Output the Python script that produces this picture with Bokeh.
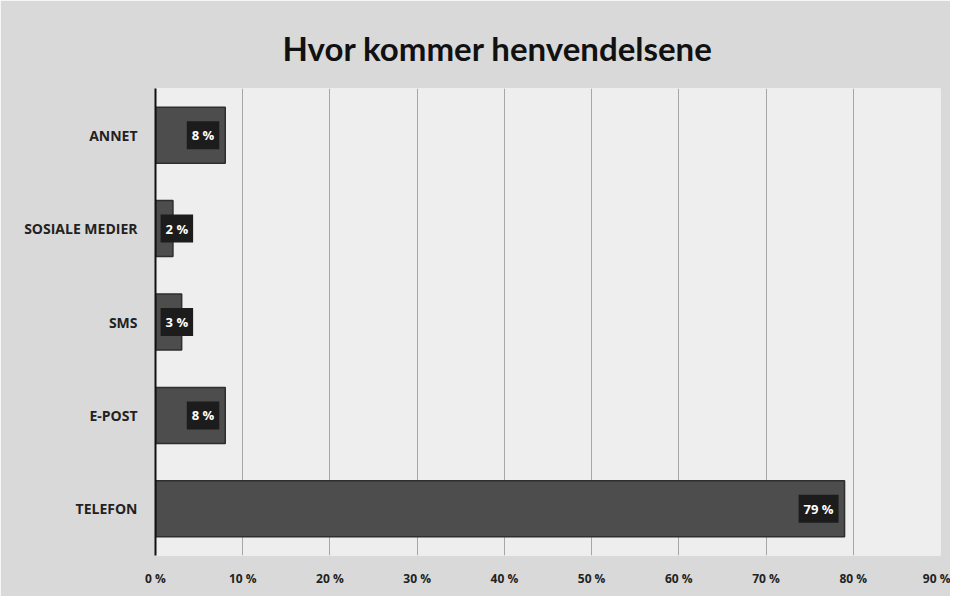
from bokeh.plotting import figure
from bokeh.models import ColumnDataSource, Range1d, FactorRange, FixedTicker, CustomJSTickFormatter
from bokeh.core.properties import value
from bokeh.embed import file_html
from bokeh.resources import INLINE

categories = ["TELEFON", "E-POST", "SMS", "SOSIALE MEDIER", "ANNET"]
values = [79, 8, 3, 2, 8]
label_texts = ["79 %", "8 %", "3 %", "2 %", "8 %"]
x_ticks = [0, 10, 20, 30, 40, 50, 60, 70, 80, 90]

label_x = [max(v, 5) for v in values]

src = ColumnDataSource(dict(cat=categories, val=values, lx=label_x, txt=label_texts))

p = figure(width=950, height=596, output_backend="svg", toolbar_location=None,
           y_range=FactorRange(factors=categories, range_padding=0),
           x_range=Range1d(0, 90),
           min_border_left=155, min_border_right=10, min_border_top=88, min_border_bottom=41)

p.title.text = "Hvor kommer henvendelsene"
p.title.align = "left"
p.title.offset = 127
p.title.text_font = "Lato"
p.title.text_font_size = "33px"
p.title.text_font_style = "bold"
p.title.text_color = "#111111"
p.title.standoff = 42

p.background_fill_color = "#eeeeee"
p.border_fill_color = "#d9d9d9"
p.outline_line_color = None

p.hbar(y="cat", right="val", left=0, height=0.6, source=src,
       fill_color="#4d4d4d", line_color="#2e2e2e", line_width=1.5)

p.text(x="lx", y="cat", text="txt", source=src, text_align="right", text_baseline="middle",
       x_offset=-6, text_color="white", text_font=value("Open Sans"), text_font_size="13px",
       text_font_style="bold", background_fill_color="#1c1c1c", padding=5)

p.xaxis.ticker = FixedTicker(ticks=x_ticks)
p.xaxis.formatter = CustomJSTickFormatter(code="return tick + ' %';")
p.xaxis.axis_line_color = None
p.xaxis.major_tick_line_color = None
p.xaxis.minor_tick_line_color = None
p.xaxis.major_label_standoff = 8
p.xaxis.major_label_text_font = "Open Sans"
p.xaxis.major_label_text_font_size = "12px"
p.xaxis.major_label_text_font_style = "bold"
p.xaxis.major_label_text_color = "#222222"

p.yaxis.axis_line_color = "#111111"
p.yaxis.axis_line_width = 2
p.yaxis.major_tick_line_color = None
p.yaxis.minor_tick_line_color = None
p.yaxis.major_label_standoff = 12
p.yaxis.major_label_text_font = "Open Sans"
p.yaxis.major_label_text_font_size = "14px"
p.yaxis.major_label_text_font_style = "bold"
p.yaxis.major_label_text_color = "#222222"

p.xgrid.grid_line_color = "#777777"
p.xgrid.grid_line_alpha = 0.6
p.ygrid.grid_line_color = None

open("out.html", "w").write(file_html(p, INLINE))
